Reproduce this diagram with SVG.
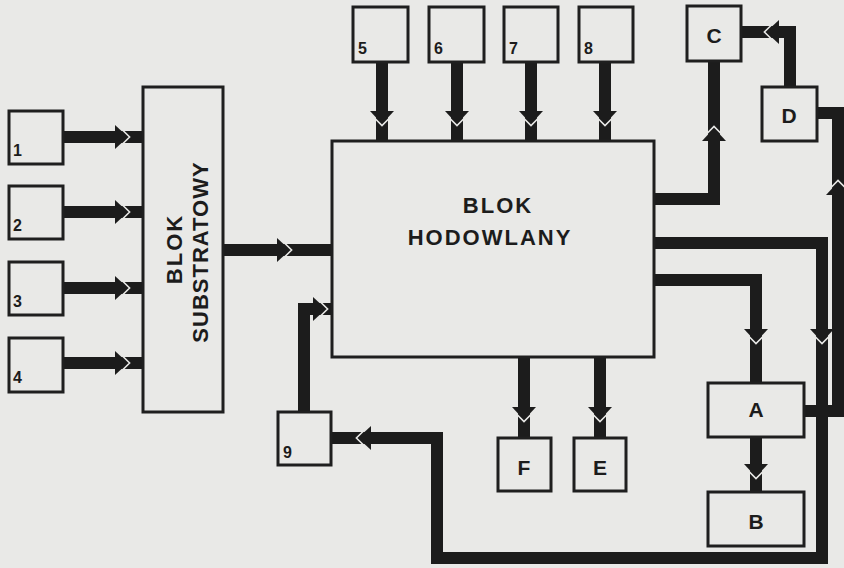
<svg xmlns="http://www.w3.org/2000/svg" xmlns:xlink="http://www.w3.org/1999/xlink" width="844" height="568" viewBox="0 0 844 568">
<style>
.bg{fill:#e9e9e7}
.box{fill:#e9e9e7;stroke:#1f1f1f;stroke-width:3}
.ln{fill:none;stroke:#1c1c1c;stroke-width:12;stroke-linejoin:miter;stroke-linecap:butt}
.big{font-family:"Liberation Sans",Arial,sans-serif;font-weight:bold;font-size:22px;fill:#1c1c1c;text-anchor:middle;letter-spacing:2px}
.let{font-family:"Liberation Sans",Arial,sans-serif;font-weight:bold;font-size:21px;fill:#1c1c1c;text-anchor:middle}
.num{font-family:"Liberation Sans",Arial,sans-serif;font-weight:bold;font-size:16px;fill:#1c1c1c}
</style>
<defs>
<g id="ah">
<polygon points="0,0 -13,-12 -13,12" fill="#1c1c1c"/>
<polyline points="-5,-6.5 1.6,0 -5,6.5" fill="none" stroke="#e9e9e7" stroke-width="1.6"/>
</g>
</defs>
<rect class="bg" x="0" y="0" width="844" height="568"/>
<g id="connectors">
<path class="ln" d="M63,137 H143"/>
<path class="ln" d="M63,212 H143"/>
<path class="ln" d="M63,288 H143"/>
<path class="ln" d="M63,363 H143"/>
<path class="ln" d="M223,250 H332"/>
<path class="ln" d="M382,62 V141"/>
<path class="ln" d="M457,62 V141"/>
<path class="ln" d="M531,62 V141"/>
<path class="ln" d="M605,62 V141"/>
<path class="ln" d="M654,199 H714 V61"/>
<path class="ln" d="M790,87 V32 H741"/>
<path class="ln" d="M804,411 H838 V113 H817"/>
<path class="ln" d="M654,243 H822 V558 H437 V438 H331"/>
<path class="ln" d="M654,280 H756 V383"/>
<path class="ln" d="M756,437 V492"/>
<path class="ln" d="M524,357 V438"/>
<path class="ln" d="M600,357 V438"/>
<path class="ln" d="M304,412 V309 H332"/>
<use xlink:href="#ah" transform="translate(128,137)"/>
<use xlink:href="#ah" transform="translate(128,212)"/>
<use xlink:href="#ah" transform="translate(128,288)"/>
<use xlink:href="#ah" transform="translate(128,363)"/>
<use xlink:href="#ah" transform="translate(290,250)"/>
<use xlink:href="#ah" transform="translate(382,124) rotate(90)"/>
<use xlink:href="#ah" transform="translate(457,124) rotate(90)"/>
<use xlink:href="#ah" transform="translate(531,124) rotate(90)"/>
<use xlink:href="#ah" transform="translate(605,124) rotate(90)"/>
<use xlink:href="#ah" transform="translate(714,128) rotate(-90)"/>
<use xlink:href="#ah" transform="translate(766,32) rotate(180)"/>
<use xlink:href="#ah" transform="translate(838,182) rotate(-90)"/>
<use xlink:href="#ah" transform="translate(822,342) rotate(90)"/>
<use xlink:href="#ah" transform="translate(358,438) rotate(180)"/>
<use xlink:href="#ah" transform="translate(756,342) rotate(90)"/>
<use xlink:href="#ah" transform="translate(756,477) rotate(90)"/>
<use xlink:href="#ah" transform="translate(524,420) rotate(90)"/>
<use xlink:href="#ah" transform="translate(600,420) rotate(90)"/>
<use xlink:href="#ah" transform="translate(326,309)"/>
</g>
<g id="n1"><rect class="box" x="9" y="111" width="54" height="53"/><text class="num" x="13" y="156">1</text></g>
<g id="n2"><rect class="box" x="9" y="186" width="54" height="53"/><text class="num" x="13" y="231">2</text></g>
<g id="n3"><rect class="box" x="9" y="262" width="54" height="53"/><text class="num" x="13" y="307">3</text></g>
<g id="n4"><rect class="box" x="9" y="338" width="54" height="54"/><text class="num" x="13" y="383">4</text></g>
<g id="substratowy"><rect class="box" x="143" y="87" width="80" height="325"/>
<text class="big" letter-spacing="1" transform="translate(182,249) rotate(-90)">BLOK</text>
<text class="big" style="letter-spacing:1px" transform="translate(208,252) rotate(-90)">SUBSTRATOWY</text></g>
<g id="hodowlany"><rect class="box" x="332" y="141" width="322" height="216"/>
<text class="big" x="498" y="213">BLOK</text>
<text class="big" x="490" y="245">HODOWLANY</text></g>
<g id="n5"><rect class="box" x="353" y="7" width="55" height="55"/><text class="num" x="358" y="54">5</text></g>
<g id="n6"><rect class="box" x="429" y="7" width="55" height="55"/><text class="num" x="434" y="54">6</text></g>
<g id="n7"><rect class="box" x="504" y="7" width="54" height="55"/><text class="num" x="509" y="54">7</text></g>
<g id="n8"><rect class="box" x="579" y="7" width="54" height="55"/><text class="num" x="584" y="54">8</text></g>
<g id="nC"><rect class="box" x="687" y="6" width="54" height="55"/><text class="let" x="714" y="43">C</text></g>
<g id="nD"><rect class="box" x="762" y="87" width="55" height="54"/><text class="let" x="789" y="123">D</text></g>
<g id="nA"><rect class="box" x="708" y="383" width="96" height="54"/><text class="let" x="756" y="417">A</text></g>
<g id="nB"><rect class="box" x="708" y="492" width="96" height="54"/><text class="let" x="756" y="529">B</text></g>
<g id="nF"><rect class="box" x="498" y="438" width="53" height="53"/><text class="let" x="524" y="475">F</text></g>
<g id="nE"><rect class="box" x="574" y="438" width="52" height="53"/><text class="let" x="600" y="475">E</text></g>
<g id="n9"><rect class="box" x="278" y="412" width="53" height="53"/><text class="num" x="283" y="458">9</text></g>
</svg>
